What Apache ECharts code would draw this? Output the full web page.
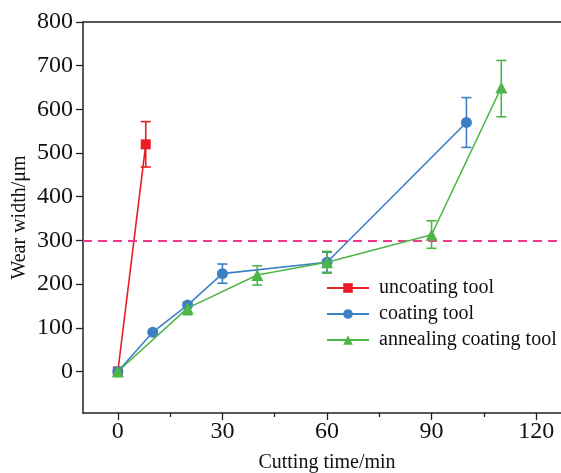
<!DOCTYPE html>
<html>
<head>
<meta charset="utf-8">
<script src="https://cdn.jsdelivr.net/npm/echarts@6/dist/echarts.min.js"></script>
<style>html,body{margin:0;padding:0;background:#fff;}#c{width:561px;height:473px;}</style>
</head>
<body>
<div id="c"></div>
<script>
// ---- data ----
var seriesNames = ['uncoating tool', 'coating tool', 'annealing coating tool'];
var uncoatX = [0, 8];
var uncoatY = [0, 520];
var uncoatErr = [[8, 468, 572]];
var coatX = [0, 10, 20, 30, 60, 100];
var coatY = [0, 90, 152, 224, 250, 570];
var coatErr = [[30, 202, 246], [60, 227, 273], [100, 513, 627]];
var annealX = [0, 20, 40, 60, 90, 110];
var annealY = [0, 145, 221, 250, 313, 650];
var annealErr = [[20, 130, 158], [40, 198, 242], [60, 225, 275], [90, 282, 345], [110, 583, 712]];
var thresholdY = 300;
var xTicks = [0, 30, 60, 90, 120];
var xMinorTicks = [15, 45, 75, 105];
var yTicks = [0, 100, 200, 300, 400, 500, 600, 700, 800];

var colors = ['#ec1c24', '#3b7fc4', '#4fb548'];
var FONT = 'Liberation Serif';

function pairs(xs, ys) { return xs.map(function (x, i) { return [x, ys[i]]; }); }

function errSeries(data, color) {
  return {
    type: 'custom',
    xAxisIndex: 0,
    data: data,
    z: 3,
    silent: true,
    renderItem: function (params, api) {
      var x = api.value(0), lo = api.value(1), hi = api.value(2);
      var pLo = api.coord([x, lo]), pHi = api.coord([x, hi]);
      var w = 5;
      var st = { stroke: color, lineWidth: 1.6 };
      return {
        type: 'group',
        children: [
          { type: 'line', shape: { x1: pLo[0], y1: pLo[1], x2: pHi[0], y2: pHi[1] }, style: st },
          { type: 'line', shape: { x1: pLo[0] - w, y1: pLo[1], x2: pLo[0] + w, y2: pLo[1] }, style: st },
          { type: 'line', shape: { x1: pHi[0] - w, y1: pHi[1], x2: pHi[0] + w, y2: pHi[1] }, style: st }
        ]
      };
    }
  };
}

var chart = echarts.init(document.getElementById('c'), null, { renderer: 'canvas' });
chart.setOption({
  animation: false,
  backgroundColor: '#fff',
  grid: { left: 83, top: 22, right: -10, bottom: 60, containLabel: false, outerBoundsMode: 'none' },
  legend: {
    data: seriesNames,
    orient: 'vertical',
    left: 321,
    top: 273,
    itemWidth: 42,
    itemHeight: 12,
    itemGap: 6,
    textStyle: { fontFamily: FONT, fontSize: 20, color: '#111', lineHeight: 20, padding: [0, 0, 0, 5] }
  },
  xAxis: [
    {
      type: 'value', min: -10, max: 130, position: 'bottom',
      name: 'Cutting time/min', nameLocation: 'middle', nameGap: 40, nameMoveOverlap: false,
      nameTextStyle: { fontFamily: FONT, fontSize: 20, color: '#111' },
      axisLine: { onZero: false, lineStyle: { color: '#222', width: 1.5 } },
      axisTick: { show: true, inside: false, length: 7, customValues: xTicks, lineStyle: { color: '#222', width: 1.3 } },
      axisLabel: { customValues: xTicks, fontFamily: FONT, fontSize: 24, color: '#111', margin: 7 },
      splitLine: { show: false }
    },
    {
      type: 'value', min: -10, max: 130, position: 'bottom',
      axisLine: { show: false, onZero: false },
      axisTick: { show: true, inside: false, length: 4, customValues: xMinorTicks, lineStyle: { color: '#222', width: 1.3 } },
      axisLabel: { show: false },
      splitLine: { show: false }
    },
    {
      type: 'value', min: -10, max: 130, position: 'top',
      axisLine: { onZero: false, lineStyle: { color: '#222', width: 1.5 } },
      axisTick: { show: false }, axisLabel: { show: false }, splitLine: { show: false }
    }
  ],
  yAxis: [{
    type: 'value', min: -95, max: 800, position: 'left',
    name: 'Wear width/μm', nameLocation: 'middle', nameGap: 53, nameRotate: 90, nameMoveOverlap: false,
    nameTextStyle: { fontFamily: FONT, fontSize: 20, color: '#111' },
    axisLine: { show: true, onZero: false, lineStyle: { color: '#222', width: 1.5 } },
    axisTick: { show: true, inside: false, length: 7, customValues: yTicks, lineStyle: { color: '#222', width: 1.3 } },
    axisLabel: { customValues: yTicks, fontFamily: FONT, fontSize: 24, color: '#111', margin: 10 },
    splitLine: { show: false }
  }],
  series: [
    {
      name: seriesNames[0], type: 'line', xAxisIndex: 0, data: pairs(uncoatX, uncoatY),
      color: colors[0], symbol: 'rect', symbolSize: 10, lineStyle: { width: 1.6 }, z: 4,
      markLine: {
        silent: true, symbol: 'none', label: { show: false },
        lineStyle: { color: '#f0388c', type: [9, 6], width: 2 },
        data: [{ yAxis: thresholdY }]
      }
    },
    errSeries(uncoatErr, colors[0]),
    {
      name: seriesNames[1], type: 'line', xAxisIndex: 0, data: pairs(coatX, coatY),
      color: colors[1], symbol: 'circle', symbolSize: 11, lineStyle: { width: 1.6 }, z: 5
    },
    errSeries(coatErr, colors[1]),
    {
      name: seriesNames[2], type: 'line', xAxisIndex: 0, data: pairs(annealX, annealY),
      color: colors[2], symbol: 'triangle', symbolSize: 12, lineStyle: { width: 1.6 }, z: 6
    },
    errSeries(annealErr, colors[2])
  ]
});
</script>
</body>
</html>
